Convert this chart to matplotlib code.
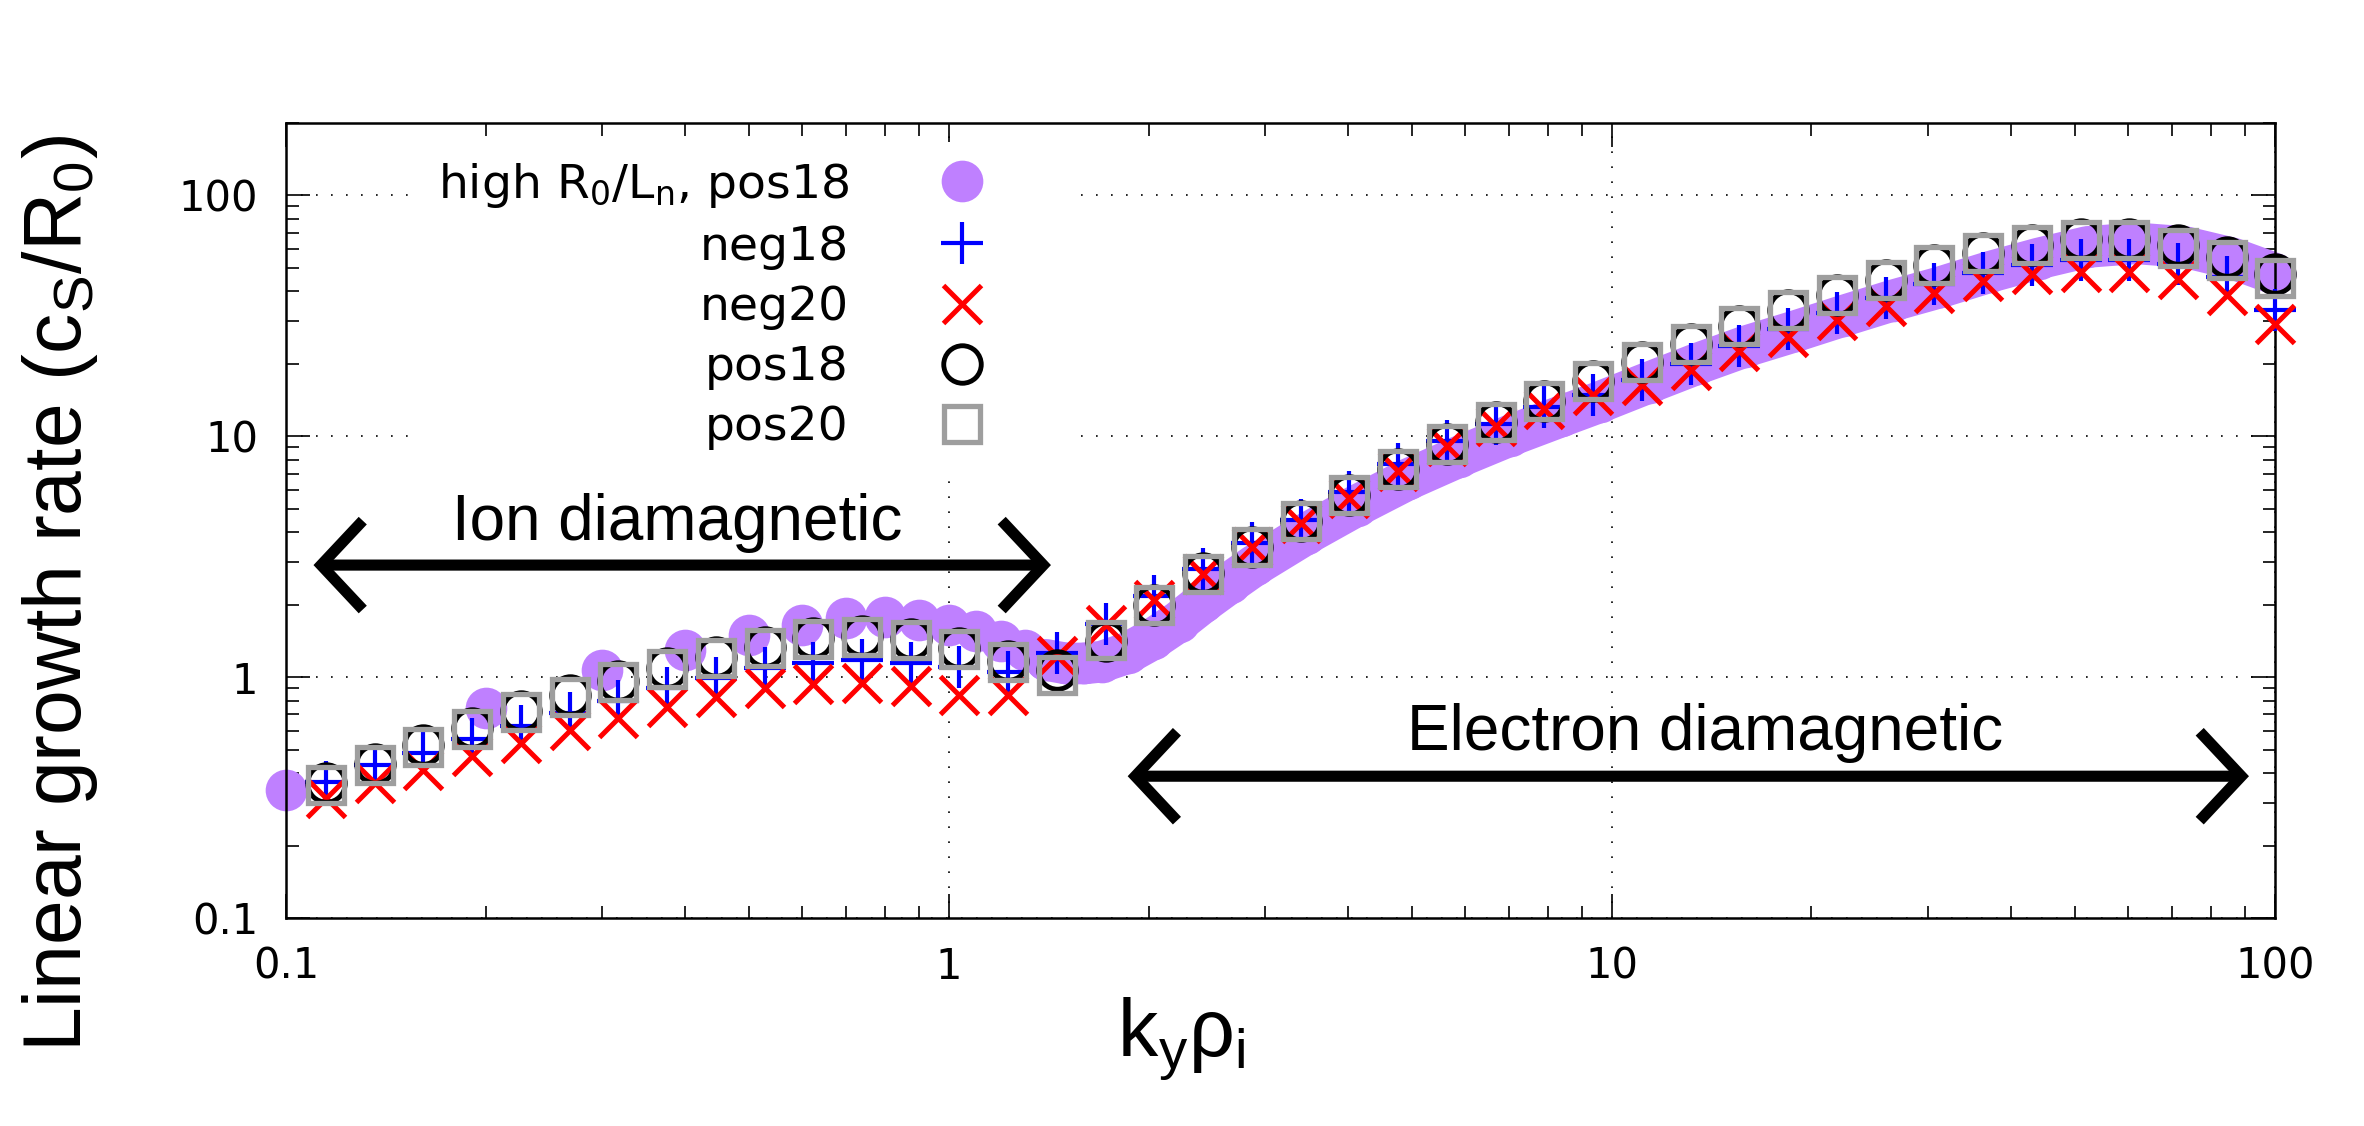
import numpy as np
import matplotlib
matplotlib.use('Agg')
import matplotlib.pyplot as plt
from matplotlib.ticker import FixedLocator, FixedFormatter, LogLocator, NullFormatter

# ky rho_i grid of the neg/pos runs
ky = [0.115, 0.136, 0.161, 0.191, 0.226, 0.268, 0.317, 0.376, 0.445, 0.527,
      0.624, 0.739, 0.875, 1.037, 1.228, 1.455, 1.723, 2.041, 2.418, 2.864,
      3.392, 4.018, 4.759, 5.637, 6.677, 7.909, 9.368, 11.10, 13.14, 15.57,
      18.44, 21.84, 25.87, 30.64, 36.30, 42.99, 50.92, 60.32, 71.44, 84.62, 100.0]

neg18 = [0.368, 0.43, 0.485, 0.552, 0.626, 0.71, 0.795, 0.90, 0.995, 1.095,
         1.15, 1.175, 1.148, 1.10, 1.05, 1.26, 1.67, 2.18, 2.81, 3.61,
         4.49, 5.85, 7.65, 9.6, 11.3, 13.2, 14.9, 17.1, 19.9, 23.8,
         27.8, 32.6, 37.7, 42.8, 47.8, 51.4, 53.9, 54.2, 51.8, 46.0, 33.6]

neg20 = [0.314, 0.365, 0.412, 0.471, 0.532, 0.604, 0.68, 0.755, 0.83, 0.90,
         0.94, 0.95, 0.915, 0.845, 0.845, 1.22, 1.65, 2.09, 2.69, 3.46,
         4.37, 5.52, 7.21, 9.13, 11.0, 13.0, 14.9, 16.4, 18.8, 22.6,
         25.9, 30.5, 34.7, 39.4, 44.0, 47.3, 48.2, 48.2, 44.8, 38.6, 29.4]

pos18 = [0.362, 0.438, 0.522, 0.615, 0.726, 0.84, 0.962, 1.09, 1.21, 1.33,
         1.45, 1.48, 1.44, 1.32, 1.17, 1.07, 1.41, 2.0, 2.70, 3.47,
         4.45, 5.70, 7.33, 9.3, 11.5, 14.0, 16.9, 20.3, 24.2, 28.7,
         33.4, 38.6, 44.7, 51.2, 57.8, 62.4, 66.0, 66.0, 62.0, 55.5, 47.3]

pos20 = [0.357, 0.432, 0.515, 0.608, 0.718, 0.831, 0.953, 1.08, 1.20, 1.32,
         1.44, 1.47, 1.43, 1.31, 1.16, 1.02, 1.42, 1.99, 2.69, 3.46,
         4.44, 5.69, 7.32, 9.29, 11.5, 14.0, 16.9, 20.3, 24.2, 28.7,
         33.4, 38.6, 44.7, 51.2, 57.8, 62.2, 65.5, 65.3, 60.8, 54.1, 45.6]

# high R0/Ln run (dense grid)
ky_high = [0.1, 0.2, 0.3, 0.4, 0.5, 0.6, 0.7, 0.8, 0.9, 1.0,
           1.1, 1.2, 1.3, 1.4, 1.5, 1.6, 1.7, 1.86, 2.03, 2.22,
           2.42, 2.65, 2.89, 3.46, 4.12, 4.92, 5.88, 7.02, 8.38, 9.6,
           11.36, 13.45, 15.9, 18.9, 22.3, 26.5, 31.3, 37.1, 44.0, 52.1,
           61.7, 73.1, 86.5, 100.0]
high_pos18 = [0.34, 0.743, 1.07, 1.30, 1.50, 1.65, 1.76, 1.77, 1.72, 1.64,
              1.55, 1.41, 1.30, 1.18, 1.14, 1.14, 1.16, 1.26, 1.44, 1.70,
              2.05, 2.46, 2.91, 3.94, 5.15, 6.62, 8.23, 10.07, 12.1, 13.9,
              16.7, 20.0, 23.6, 27.3, 31.6, 36.6, 41.6, 48.1, 54.7, 61.1,
              63.3, 61.1, 54.7, 47.3]

plt.rcParams['font.family'] = 'DejaVu Sans'
plt.rcParams['mathtext.default'] = 'regular'

fig = plt.figure(figsize=(23.64, 11.26), dpi=100)
ax = fig.add_axes([0.121, 0.1847, 0.8413, 0.7061])

purple = '#bf80ff'
# where the points crowd together they make a continuous band
ax.plot(ky_high[13:], high_pos18[13:], color=purple, lw=30,
        solid_capstyle='round', solid_joinstyle='round', zorder=2, clip_on=False)
ax.plot(ky_high, high_pos18, 'o', ms=30, mew=0, color=purple, zorder=2,
        clip_on=False, label='high R$_0$/L$_n$, pos18')
ax.plot(ky, neg18, '+', ms=30, mew=3, color='#0000ff', zorder=3,
        clip_on=False, label='neg18')
ax.plot(ky, neg20, 'x', ms=28, mew=3.6, color='#ff0000', zorder=4,
        clip_on=False, label='neg20')
ax.plot(ky, pos18, 'o', ms=27, mew=3.5, mfc='none', mec='black', zorder=5,
        clip_on=False, label='pos18')
ax.plot(ky, pos20, 's', ms=26.5, mew=3.8, mfc='none', mec='#9e9e9e', zorder=6,
        clip_on=False, label='pos20')

ax.set_xscale('log')
ax.set_yscale('log')
ax.set_xlim(0.1, 100)
ax.set_ylim(0.1, 200)

ax.xaxis.set_major_locator(FixedLocator([0.1, 1, 10, 100]))
ax.xaxis.set_major_formatter(FixedFormatter(['0.1', '1', '10', '100']))
ax.yaxis.set_major_locator(FixedLocator([0.1, 1, 10, 100]))
ax.yaxis.set_major_formatter(FixedFormatter(['0.1', '1', '10', '100']))
for a in (ax.xaxis, ax.yaxis):
    a.set_minor_locator(LogLocator(base=10, subs=np.arange(2, 10)))
    a.set_minor_formatter(NullFormatter())

ax.tick_params(which='both', direction='in', top=True, right=True, width=1.2)
ax.tick_params(which='major', length=17, labelsize=30, pad=20)
ax.tick_params(which='minor', length=9)
for s in ax.spines.values():
    s.set_linewidth(1.8)

ax.grid(True, which='major', color='black', lw=1.2, ls=(0, (1, 8)))
ax.set_axisbelow(True)

leg = ax.legend(loc='upper right', bbox_to_anchor=(1080 / 2364, 1 - 142 / 1126),
                bbox_transform=fig.transFigure, markerfirst=False, numpoints=1,
                fontsize=34, handlelength=4.2, handletextpad=0.3, labelspacing=0.32,
                borderpad=0.4, borderaxespad=0, frameon=True, fancybox=False,
                edgecolor='none', facecolor='white', framealpha=1)
leg.set_zorder(10)

# direction arrows
arrow_style = dict(arrowstyle='<->,head_length=3.0,head_width=3.2', lw=8,
                   color='black', shrinkA=0, shrinkB=0, mutation_scale=10,
                   joinstyle='miter', capstyle='butt')
ax.annotate('', xy=(1.425, 2.92), xytext=(0.110, 2.92), arrowprops=arrow_style)
ax.annotate('', xy=(91.4, 0.388), xytext=(1.86, 0.388), arrowprops=arrow_style)
ax.text(0.389, 4.36, 'Ion diamagnetic', ha='center', va='center',
        fontsize=46, family='Liberation Sans')
ax.text(13.8, 0.585, 'Electron diamagnetic', ha='center', va='center',
        fontsize=46, family='Liberation Sans')

ax.set_ylabel('Linear growth rate (c$_S$/R$_0$)', fontsize=58,
              family='Liberation Sans', va='center')
ax.yaxis.set_label_coords(-0.1137, 0.408)
ax.set_xlabel('k$_y$ρ$_i$', fontsize=58, family='Liberation Sans', va='center')
ax.xaxis.set_label_coords(0.45, -0.154)

fig.savefig('out.png', dpi=100)
